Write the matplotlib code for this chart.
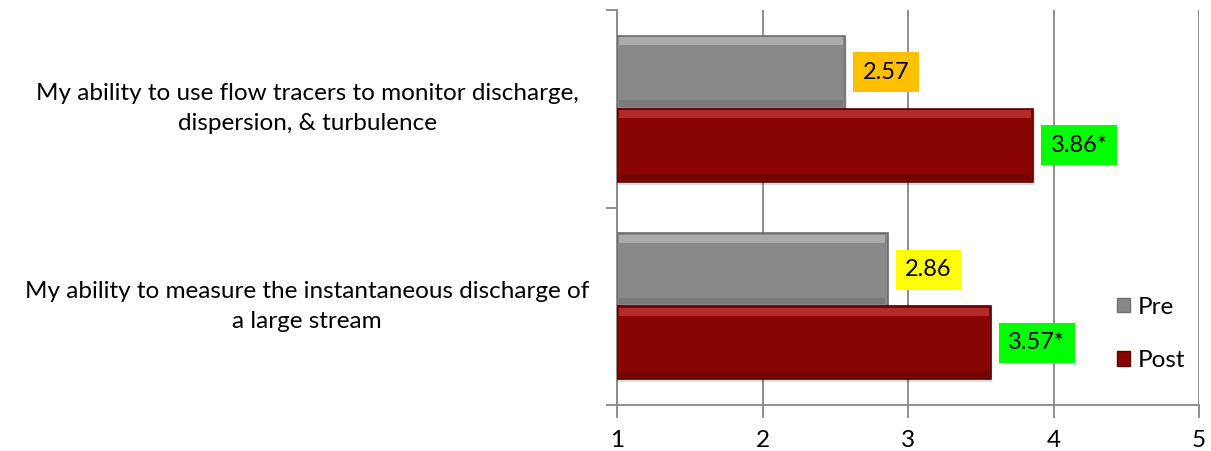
import matplotlib
matplotlib.use("Agg")
import matplotlib.pyplot as plt
from matplotlib.patches import Patch
from matplotlib.transforms import blended_transform_factory

categories = ["My ability to measure the instantaneous discharge of\na large stream",
              "My ability to use flow tracers to monitor discharge,\ndispersion, & turbulence"]
pre_values = [2.86, 2.57]
post_values = [3.57, 3.86]
pre_labels = ["2.86", "2.57"]
post_labels = ["3.57*", "3.86*"]
pre_label_colors = ["#FFFF00", "#FFC000"]
post_label_colors = ["#00FF00", "#00FF00"]
series_names = ["Pre", "Post"]
xticks = [1, 2, 3, 4, 5]

plt.rcParams['font.family'] = ['Lato', 'DejaVu Sans']
FS = 17.5
VFS = 17

fig = plt.figure(figsize=(12.11, 4.51), dpi=100)
ax = fig.add_axes([617/1211, 1-405/451, (1199-617)/1211, (405-10)/451])

h = 0.37
base = 1
gray, gray_hi, gray_edge, gray_lo = "#888888", "#ABABAB", "#6E6E6E", "#7A7A7A"
red, red_hi, red_edge, red_lo = "#890505", "#B42A2A", "#5A0000", "#740303"

y = list(range(len(categories)))
y_pre = [v + h/2 for v in y]
y_post = [v - h/2 for v in y]
w_pre = [v - base for v in pre_values]
w_post = [v - base for v in post_values]

# shadows
ax.barh([v - 0.015 for v in y_pre], w_pre, height=h, left=base+0.01, color="#000000", alpha=0.10, zorder=2)
ax.barh([v - 0.015 for v in y_post], w_post, height=h, left=base+0.01, color="#000000", alpha=0.13, zorder=2)
# main bars
ax.barh(y_pre, w_pre, height=h, left=base, color=gray, edgecolor=gray_edge, linewidth=1.2, zorder=3)
ax.barh(y_post, w_post, height=h, left=base, color=red, edgecolor=red_edge, linewidth=1.2, zorder=3)
# top highlights (bevel)
hl = 0.04
ax.barh([v + h/2 - hl/2 - 0.008 for v in y_pre], [w - 0.03 for w in w_pre], height=hl, left=base+0.015,
        color=gray_hi, linewidth=0, zorder=4)
ax.barh([v + h/2 - hl/2 - 0.008 for v in y_post], [w - 0.03 for w in w_post], height=hl, left=base+0.015,
        color=red_hi, linewidth=0, zorder=4)
# bottom dark bevel
ax.barh([v - h/2 + hl/2 + 0.006 for v in y_pre], [w - 0.03 for w in w_pre], height=hl*0.8, left=base+0.015,
        color=gray_lo, linewidth=0, zorder=4)
ax.barh([v - h/2 + hl/2 + 0.006 for v in y_post], [w - 0.03 for w in w_post], height=hl*0.8, left=base+0.015,
        color=red_lo, linewidth=0, zorder=4)

# value labels
pad = 0.4
off = (8 + pad * VFS * 100 / 72) / 145.5
for yy, v, lab, c in zip(y_pre, pre_values, pre_labels, pre_label_colors):
    ax.text(v + off, yy, lab, ha="left", va="center", fontsize=VFS, color="black", zorder=6,
            bbox=dict(boxstyle=f"square,pad={pad}", facecolor=c, edgecolor="none"))
for yy, v, lab, c in zip(y_post, post_values, post_labels, post_label_colors):
    ax.text(v + off, yy, lab, ha="left", va="center", fontsize=VFS, color="black", zorder=6,
            bbox=dict(boxstyle=f"square,pad={pad}", facecolor=c, edgecolor="none"))

ax.set_xlim(1, 5)
ax.set_ylim(-0.5, len(categories) - 0.5)
ax.set_xticks(xticks)
ax.set_xticklabels([str(t) for t in xticks], fontsize=FS)
ax.tick_params(axis="x", direction="out", length=9, width=1.3, color="#868686", pad=9)
ax.set_yticks([])
ax.set_yticks([-0.5 + i for i in range(len(categories) + 1)], minor=True)
ax.tick_params(axis="y", which="minor", direction="out", length=8, width=1.3, color="#868686")
ax.grid(axis="x", color="#868686", linewidth=1.3, zorder=0)
ax.set_axisbelow(True)
for s in ["top", "right"]:
    ax.spines[s].set_visible(False)
for s in ["left", "bottom"]:
    ax.spines[s].set_color("#868686")
    ax.spines[s].set_linewidth(1.3)

# category labels
tr = blended_transform_factory(fig.transFigure, ax.transData)
for yy, lab in zip(y, categories):
    ax.text(307/1211, yy, lab, transform=tr, ha="center", va="center", multialignment="center",
            fontsize=FS, linespacing=1.55)

handles = [Patch(facecolor=gray, edgecolor=gray_edge), Patch(facecolor=red, edgecolor=red_edge)]
leg = ax.legend(handles, series_names, loc="center left", bbox_to_anchor=(1095/1211, 1-334/451),
                bbox_transform=fig.transFigure, frameon=False, fontsize=FS,
                handlelength=0.55, handleheight=0.55, handletextpad=0.3, labelspacing=1.35)

fig.savefig("out.png", dpi=100)
